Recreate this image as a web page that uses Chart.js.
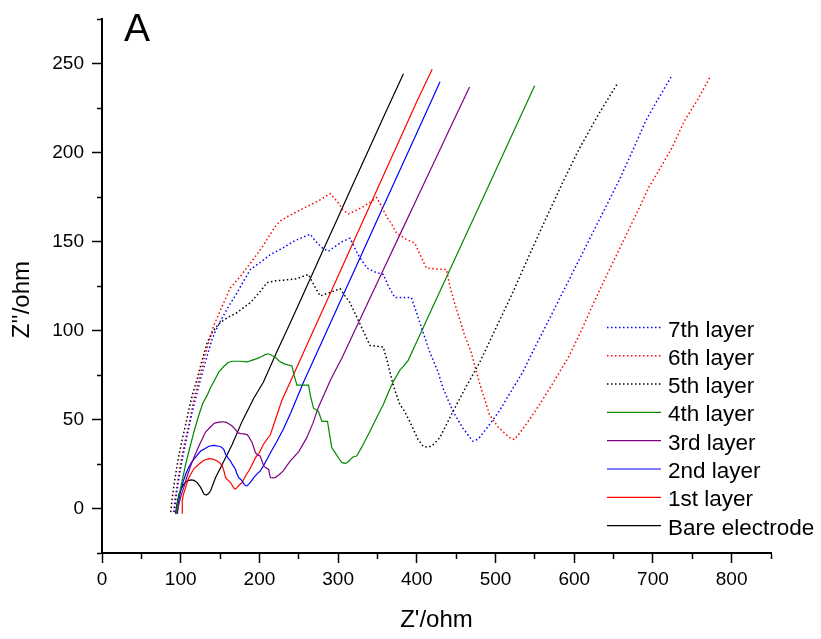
<!DOCTYPE html>
<html>
<head>
<meta charset="utf-8">
<script src="https://cdn.jsdelivr.net/npm/chart.js@4"></script>
<style>
  body { margin: 0; background: #fff; }
  #wrap { width: 821px; height: 639px; }
</style>
</head>
<body>
<div id="wrap"><canvas id="nyquist" width="821" height="639"></canvas></div>
<script>
// Nyquist data, [Z' , Z''] pairs in ohm
const bare = [[93.5,-3],[95,2],[97.9,8.2],[101,11.5],[104,13.7],[108,15.5],[112.7,16.1],[117,15.8],[121,14.6],[125.3,11.9],[129.5,8.2],[132.5,7.6],[135,8.3],[138,10],[144.3,17.4],[152.8,24.9],[165.4,36],[178,49],[192.8,62],[205,71],[222,88],[240,105.2],[260,124.7],[280,144.3],[300,163.8],[320,183.4],[340,202.9],[360,222.4],[383,244.5]];
const layer1 = [[102,-3],[102,4.6],[103.5,8],[106.3,11.9],[109,16],[112.7,19.3],[117,22.5],[123,24.9],[129,27],[135.8,28],[141,27.8],[146.3,26.7],[150,25.5],[152.8,24],[155,21],[157,17.4],[160,16],[163.3,14.6],[167.5,11.5],[169.5,11],[171.8,11.9],[175,13.5],[178,14.6],[182,18],[186.4,21.1],[190,24],[195,28.6],[200,31.5],[205,36],[214,41.6],[228.7,61],[239,71],[260,91.6],[280,111.2],[300,130.8],[320,150.4],[340,170],[360,189.6],[380,209.2],[400,228.8],[419.5,247]];
const layer2 = [[95.8,-3],[97,3],[100,10],[103,15],[106.3,19.3],[110,23],[114.8,26.7],[120,29.5],[125.3,32.3],[130,33.5],[135.8,35],[142,35.5],[148.5,35],[152,34.5],[154.8,33.2],[157,30.5],[160,28.5],[163.3,26.7],[166,24.5],[169.6,22.1],[171,20],[173.8,17.4],[176,16.5],[178,15.6],[180,14],[182.3,12.8],[184.4,12.8],[186.4,13.7],[189,15],[192.8,17.4],[197,19.5],[201,21],[205,24],[210,28],[214,31.4],[222,37.5],[230.8,45],[240,54],[256,71],[280,94.4],[300,113.9],[320,133.3],[340,152.8],[360,172.3],[380,191.8],[400,211.2],[420,230.7],[429.5,240]];
const layer3 = [[95,-3],[98,3],[101,8],[104,12],[108,18],[112.7,24],[118,30],[124,36],[131.6,43],[138,46],[143,48],[148.5,48.6],[153,48.8],[157,48.6],[160,48],[165,46.5],[169.6,44.4],[173,42.5],[176,42.1],[180,42],[184.4,41.6],[187,40],[190.8,37],[193,34],[195,31.4],[198,30],[201,29.5],[203,27],[205.5,24],[208,23],[211.8,22],[213,19],[214,17.4],[217,17.2],[220,17.4],[225,19],[230,21],[239,26.7],[250,32],[260,39.7],[268,48],[275,57],[283,65],[290,72],[297,78],[304.7,84.5],[320,99],[340,117.8],[360,136.6],[380,155.4],[400,174.2],[425,197.7],[445,216.5],[467,237]];
const layer4 = [[94,-3],[96,3],[100,11.9],[103,18],[106.3,24.9],[110,31.5],[114.8,39.7],[118,45],[123.2,52.7],[128,59],[133.8,63.9],[138,68],[142,71.3],[148.5,76.8],[155,80],[160,82],[165.4,82.8],[175,82.8],[184.4,82.4],[190,83.3],[197,84.3],[203,85.5],[207,86.5],[211.8,87],[216,86],[220,85.2],[225,83],[230.8,81.5],[236,80.8],[241.4,80.2],[244,75],[247.7,69.4],[255,69.4],[262.4,69.4],[265,63],[268.7,56.4],[272,55.5],[275,54.6],[277,52],[279.4,49],[283,49],[286.5,49],[289,42],[292,34.1],[296.2,31.4],[301.6,27.7],[304,26.2],[307.6,25.4],[310,25.5],[313,26.3],[316,27.8],[319.4,29.1],[323.6,29.5],[330,34.5],[340.5,43.4],[350,52],[357.3,58.3],[365,66.5],[370,71.3],[378.5,77.8],[384,80.5],[389,83.3],[399.6,93.5],[420,113.1],[440,132.3],[460,151.5],[480,170.7],[500,189.9],[520,209.1],[549.7,237.7]];
const layer5 = [[87.3,-2],[89,5],[92,15],[95,23],[97.9,30.4],[102,39],[106.3,47.2],[110,55],[114.8,63.9],[121,73],[127,83],[133.8,93.5],[140,99],[145,102],[150.6,104.7],[160,107.5],[171.8,110.2],[180,113],[188.6,115.8],[200,121.5],[209.7,127],[220,128],[230.8,128.4],[247.7,129.2],[255,130.5],[262.4,131.6],[270,125],[277.2,119.5],[290,121.5],[302.5,123.6],[308,120],[315,115.8],[328,103.5],[340.5,91.7],[357.3,90.8],[361.6,84.2],[370,69.4],[378.5,58.3],[382.7,56],[391,49],[401.6,38.8],[408,35],[414.3,34.5],[420,35.5],[429,39.7],[446,54.6],[462,68],[479.7,82],[500,101],[522,121.5],[543,142.5],[564,163],[585,183],[606,202],[630,221],[655,239]];
const layer6 = [[91,-2],[93,6],[96,15],[99,23],[102,30.4],[106,39],[110.5,47],[114,55],[117,62],[123,72],[129.5,84.2],[136,94],[142,102.8],[152,113],[163,124],[176,130.7],[188.6,138],[197,143],[205.4,148.2],[212,153],[220,158.5],[226,161.5],[235,164],[248,167],[260,169.7],[275,173],[290,177],[300,172],[306,168],[313,165.6],[322,167.5],[332,169.7],[340,172],[349,174.8],[355,170],[361.6,164],[368,160],[374.3,154.8],[386,151.5],[397.5,149.2],[405,142],[412,135.3],[425,134.6],[437.6,134.4],[442,125],[447,117],[454.4,106.5],[461,97],[469,88],[480,70],[492.4,52.7],[503,46],[513.5,41.6],[519,39.5],[524,38.8],[530,42],[540,48],[555.7,58.3],[575,72],[593.7,86],[610,101],[623,114],[640,130],[657,145.5],[676,163],[695,180.7],[710,192],[724.4,203],[740,218],[757,230],[773,243]];
const layer7 = [[92,-2],[94,6],[97,15],[100,23],[103,30],[107,38.5],[111,47],[115,55],[119,62],[126,74],[133,85],[140,95.4],[145,100.5],[150.6,105.6],[160,113],[171.8,121.4],[180,128],[188.6,134.4],[200,138],[214,142.8],[230,146.5],[243.4,150.2],[255,152.5],[264.6,154.2],[272,150],[280,146.5],[287.7,144.6],[295,147],[305,150],[315,152],[325,143],[336.3,135.3],[347,133],[357.3,131.6],[364,125],[372,118.6],[383,118.6],[393,118.6],[399.6,110.2],[408,99],[416.4,88],[427,76.8],[433,68],[439.6,61.1],[446,54.6],[458,45.5],[471,37.9],[478,39],[492.4,47.2],[505,55],[522,67.5],[535,77],[547,88],[562,101],[576.8,114],[595,130],[614.8,147.4],[636,166],[657,184.5],[674,201],[690.8,217.9],[705,229],[723.6,243]];

const seriesNames = ["7th layer", "6th layer", "5th layer", "4th layer", "3rd layer", "2nd layer", "1st layer", "Bare electrode"];
const seriesData = [layer7, layer6, layer5, layer4, layer3, layer2, layer1, bare];
const seriesColors = ["#0000ff", "#ff0000", "#000000", "#008800", "#800080", "#0000ff", "#ff0000", "#000000"];
const seriesDotted = [true, true, true, false, false, false, false, false];

const FONT = '"Liberation Sans", Arial, sans-serif';

const datasets = seriesNames.map((name, i) => ({
  label: name,
  data: seriesData[i].map(p => ({ x: p[0], y: p[1] })),
  borderColor: seriesColors[i],
  borderWidth: seriesDotted[i] ? 1.5 : 1.2,
  borderDash: seriesDotted[i] ? [1.5, 2.5] : [],
  showLine: true,
  pointRadius: 0,
  tension: 0,
  fill: false
}));

// panel letter + legend inside the plot area
const extras = {
  id: "extras",
  afterDraw(chart) {
    const ctx = chart.ctx;
    ctx.save();
    ctx.fillStyle = "#000";
    ctx.font = "39px " + FONT;
    ctx.textBaseline = "alphabetic";
    ctx.fillText("A", 124, 41);

    ctx.font = "22.5px " + FONT;
    chart.data.datasets.forEach((ds, i) => {
      const y = 327.5 + i * 28.3;
      ctx.strokeStyle = ds.borderColor;
      ctx.lineWidth = ds.borderWidth;
      ctx.setLineDash(ds.borderDash);
      ctx.beginPath();
      ctx.moveTo(607, y);
      ctx.lineTo(661, y);
      ctx.stroke();
      ctx.setLineDash([]);
      ctx.fillText(ds.label, 668, y + 9);
    });
    ctx.restore();
  }
};

new Chart(document.getElementById("nyquist"), {
  type: "scatter",
  data: { datasets },
  plugins: [extras],
  options: {
    responsive: false,
    animation: false,
    devicePixelRatio: 1,
    layout: { padding: { left: 0, top: 14, right: 50, bottom: 0 } },
    plugins: { legend: { display: false }, tooltip: { enabled: false } },
    scales: {
      x: {
        type: "linear",
        min: 0,
        max: 850,
        afterFit: s => { s.height = 86; },
        border: { color: "#000", width: 2 },
        grid: {
          drawOnChartArea: false,
          tickLength: 10,
          tickColor: "#000",
          tickWidth: 1.5,
          tickBorderDash: c => (c.tick && c.tick.value % 100 !== 0 ? [5, 100] : [])
        },
        ticks: {
          stepSize: 50,
          autoSkip: false,
          maxRotation: 0,
          padding: 5,
          color: "#000",
          font: { family: FONT, size: 19 },
          callback: v => (v % 100 === 0 ? String(v) : "")
        },
        title: {
          display: true,
          text: "Z'/ohm",
          color: "#000",
          font: { family: FONT, size: 24 },
          padding: { top: 0, bottom: 4 }
        }
      },
      y: {
        type: "linear",
        min: -25,
        max: 275,
        afterFit: s => { s.width = 102; },
        border: { color: "#000", width: 2 },
        grid: {
          drawOnChartArea: false,
          tickLength: 10,
          tickColor: "#000",
          tickWidth: 1.5,
          tickBorderDash: c => (c.tick && c.tick.value % 50 !== 0 ? [0, 5, 6, 100] : [])
        },
        ticks: {
          stepSize: 25,
          autoSkip: false,
          padding: 8,
          color: "#000",
          font: { family: FONT, size: 19 },
          callback: v => (v % 50 === 0 ? String(v) : "")
        },
        title: {
          display: true,
          text: "Z''/ohm    ",
          color: "#000",
          font: { family: FONT, size: 24 },
          padding: { top: 8, bottom: 0 }
        }
      }
    }
  }
});
</script>
</body>
</html>
